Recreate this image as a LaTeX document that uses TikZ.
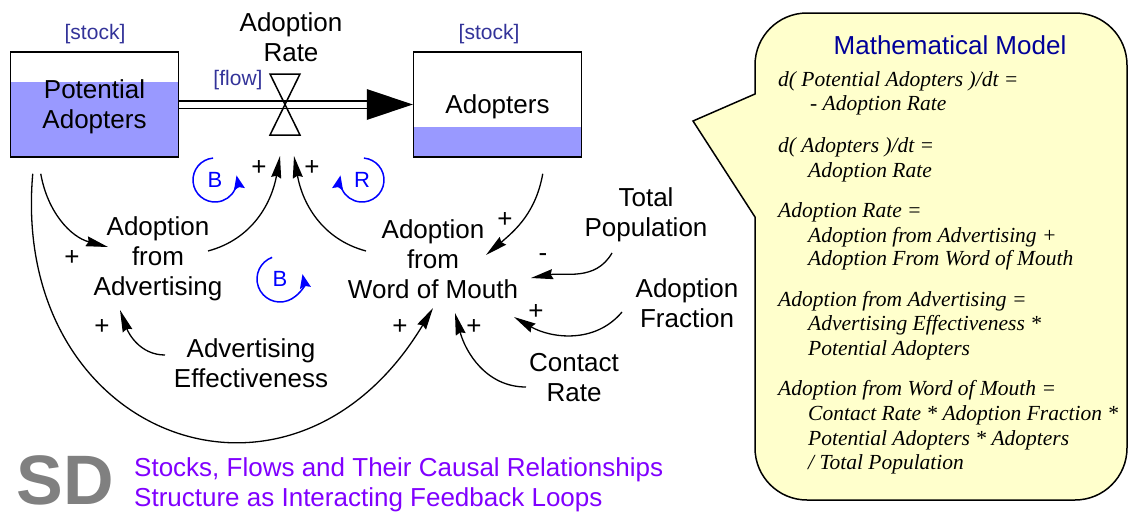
\documentclass[tikz,border=0pt]{standalone}
\usepackage{fontspec}
\setmainfont{Liberation Sans}
\newfontfamily\eqfont{Liberation Serif}
\usetikzlibrary{arrows.meta}

\definecolor{stockfill}{HTML}{9999FF}
\definecolor{stocklabel}{HTML}{333399}
\definecolor{loopblue}{HTML}{0000FF}
\definecolor{titleblue}{HTML}{000099}
\definecolor{notefill}{HTML}{FFFFCC}
\definecolor{sdgray}{HTML}{808080}
\definecolor{sdpurple}{HTML}{8000FF}

\tikzset{
  var/.style={align=center, inner sep=0pt, font=\fontsize{26}{30}\selectfont},
  stock/.style={draw, line width=1.5pt, align=center, inner sep=0pt,
    minimum width=168pt, minimum height=105pt, font=\fontsize{26}{30}\selectfont,
    path picture={\fill[stockfill] (path picture bounding box.south west)
      rectangle ([yshift=#1]path picture bounding box.south east);}},
  link/.style={-{Stealth[length=22pt,width=10pt,inset=2pt]}, line width=1.3pt},
  sign/.style={inner sep=0pt, font=\fontsize{26}{30}\selectfont},
  tag/.style={inner sep=0pt, text=stocklabel, font=\fontsize{21}{24}\selectfont},
  loopmark/.style={loopblue, line width=1.5pt, -{Stealth[length=14pt,width=11pt,inset=2pt]}},
  looplabel/.style={inner sep=0pt, text=loopblue, font=\fontsize{22}{24}\selectfont},
  eqn/.style={anchor=base west, inner sep=0pt, font=\fontsize{21.5}{25}\selectfont\eqfont\itshape},
}

\begin{document}
\begin{tikzpicture}[x=1pt,y=1pt]
    \useasboundingbox (0,0) rectangle (1128,-514);
    % callout with the equations
    \draw[fill=notefill, line width=1.5pt] (693,-121) -- (755,-94) [rounded corners=52pt] -- (755,-13) -- (1127,-13) -- (1127,-500) -- (755,-500) [sharp corners] -- (755,-217) -- cycle;
    \node[var, text=titleblue] (title) at (950,-45) {Mathematical Model};
    \node[eqn] (eq1) at (778,-86) {d( Potential Adopters )/dt =};
    \node[eqn] (eq2) at (810,-110) {- Adoption Rate};
    \node[eqn] (eq3) at (778,-152) {d( Adopters )/dt =};
    \node[eqn] (eq4) at (808,-177) {Adoption Rate};
    \node[eqn] (eq5) at (778,-217) {Adoption Rate =};
    \node[eqn] (eq6) at (808,-242) {Adoption from Advertising +};
    \node[eqn] (eq7) at (808,-265) {Adoption From Word of Mouth};
    \node[eqn] (eq8) at (778,-306) {Adoption from Advertising =};
    \node[eqn] (eq9) at (808,-330) {Advertising Effectiveness *};
    \node[eqn] (eq10) at (808,-355) {Potential Adopters};
    \node[eqn] (eq11) at (778,-395) {Adoption from Word of Mouth =};
    \node[eqn] (eq12) at (808,-420) {Contact Rate * Adoption Fraction *};
    \node[eqn] (eq13) at (808,-445) {Potential Adopters * Adopters};
    \node[eqn] (eq14) at (808,-469) {/ Total Population};

    % stocks and flow
    \node[stock=75pt] (pa) at (94.5,-104.5) {\raisebox{-2pt}[\height][\depth]{Potential}\\\raisebox{-2pt}[\height][\depth]{Adopters}};
    \node[stock=30pt] (ad) at (497.5,-104.5) {\raisebox{-2pt}[\height][\depth]{Adopters}};
    \node[tag] (tagpa) at (95,-34) {[stock]};
    \node[tag] (tagad) at (489,-34) {[stock]};
    \node[tag] (tagflow) at (238,-80) {[flow]};
    \coordinate (valve) at (285,-104.5);
    \node[var] (rate) at (291,-37) {Adoption\\Rate};
    \draw[line width=1.5pt, double=white, double distance=6pt] (pa.east) -- ([xshift=-40pt]ad.west);
    \fill (ad.west) -- ++(-46,15.5) -- ++(0,-31) -- cycle;
    \draw[line width=1.5pt] ([shift={(-15,30.5)}]valve) -- ++(30,0) -- ++(-30,-61) -- ++(30,0) -- cycle;

    % auxiliaries
    \node[var] (afa) at (158,-259) {Adoption\\from\\Advertising};
    \node[var] (afw) at (433,-259) {Adoption\\from\\Word of Mouth};
    \node[var] (ae) at (251,-363) {Advertising\\Effectiveness};
    \node[var] (tp) at (646,-215) {Total\\Population};
    \node[var] (af) at (687,-303) {Adoption\\Fraction};
    \node[var] (cr) at (574,-378) {Contact\\Rate};

    % causal links
    \draw[link] ([shift={(31,-16)}]pa.south west) to[out=-80,in=165] ([shift={(-50,12)}]afa.center);
    \draw[link] ([shift={(50,8)}]afa.center) to[out=15,in=-100] ([shift={(-5,-51.5)}]valve);
    \draw[link] ([shift={(-67,8)}]afw.center) to[out=165,in=-80] ([shift={(9,-51.5)}]valve);
    \draw[link] ([shift={(130,-16)}]ad.south west) to[out=-100,in=40] ([shift={(53,4)}]afw.center);
    \draw[link] ([shift={(-34,-38)}]tp.center) to[out=-120,in=10] ([shift={(98,-19)}]afw.center);
    \draw[link] ([shift={(-65,-9)}]af.center) to[out=-130,in=-30] ([shift={(81,-58)}]afw.center);
    \draw[link] ([shift={(-48,-9)}]cr.center) to[out=180,in=-75] ([shift={(22,-54)}]afw.center);
    \draw[link] ([shift={(-86,8)}]ae.center) to[out=180,in=-70] ([shift={(-38,-51)}]afa.center);
    \draw[link] ([shift={(23,-16)}]pa.south west) .. controls +(-95:265) and +(-121:275) .. ([shift={(0,-49)}]afw.center);

    % polarities
    \node[sign] (s1) at (72,-258) {+};
    \node[sign] (s2) at (259,-168) {+};
    \node[sign] (s3) at (312,-168) {+};
    \node[sign] (s4) at (505,-220) {+};
    \node[sign] (s5) at (543,-258) {-};
    \node[sign] (s6) at (536,-312) {+};
    \node[sign] (s7) at (474,-327) {+};
    \node[sign] (s8) at (400,-327) {+};
    \node[sign] (s9) at (102,-327) {+};

    % loop markers
    \node[looplabel] (b1) at (215,-180) {B};
    \draw[loopmark] ([shift={(95:22)}]b1.center) arc[start angle=95, end angle=372, radius=22];
    \node[looplabel] (r1) at (362,-180) {R};
    \draw[loopmark] ([shift={(85:22)}]r1.center) arc[start angle=85, end angle=-192, radius=22];
    \node[looplabel] (b2) at (280,-279) {B};
    \draw[loopmark] ([shift={(110:23)}]b2.center) arc[start angle=110, end angle=372, radius=23];

    % footer
    \node[inner sep=0pt, text=sdgray, font=\fontsize{70}{70}\selectfont\bfseries] (sd) at (65,-480) {SD};
    \node[anchor=west, align=left, inner sep=0pt, text=sdpurple, font=\fontsize{26}{30}\selectfont] (subtitle) at (134,-485) {Stocks, Flows and Their Causal Relationships\\Structure as Interacting Feedback Loops};
\end{tikzpicture}
\end{document}
